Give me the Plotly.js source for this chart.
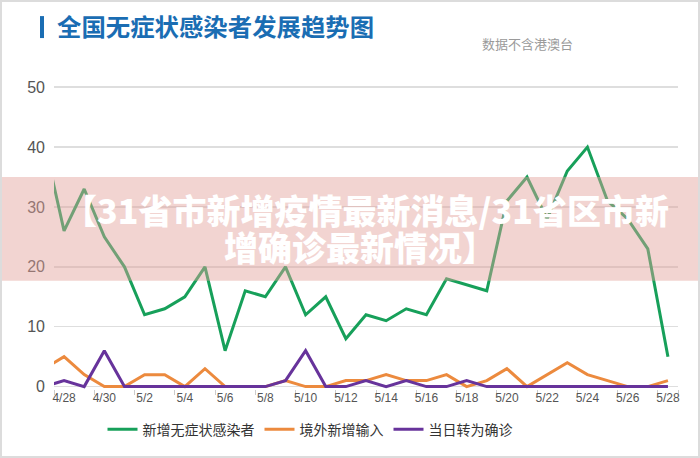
<!DOCTYPE html>
<html>
<head>
<meta charset="utf-8">
<script src="https://cdn.plot.ly/plotly-3.0.1.min.js"></script>
<style>
  html, body { margin: 0; padding: 0; background: #fff; }
  #wrap { position: relative; width: 700px; height: 458px; }
  #chart { width: 700px; height: 458px; }
  #frame { position: absolute; left: 0; top: 0; width: 700px; height: 458px; box-sizing: border-box; border: 2px solid #dcdcdc; pointer-events: none; }
</style>
</head>
<body>
<div id="wrap"><div id="chart"></div><div id="frame"></div></div>
<script>
// Dates (4/27 only feeds the line segment that is clipped at the left edge)
const dates = ['4/27','4/28','4/29','4/30','5/1','5/2','5/3','5/4','5/5','5/6','5/7','5/8','5/9','5/10','5/11','5/12','5/13','5/14','5/15','5/16','5/17','5/18','5/19','5/20','5/21','5/22','5/23','5/24','5/25','5/26','5/27','5/28'];
const asymptomatic = [41,26,33,25,20,12,13,15,20,6,16,15,20,12,15,8,12,11,13,12,18,17,16,31,35,28,36,40,31,28,23,5];
const imported     = [3,5,2,0,0,2,2,0,3,0,0,0,1,0,0,1,1,2,1,1,2,0,1,3,0,2,4,2,1,0,0,1];
const confirmed    = [0,1,0,6,0,0,0,0,0,0,0,0,1,6,0,0,1,0,1,0,0,1,0,0,0,0,0,0,0,0,0,0];
const tickLabels = ['4/28','4/30','5/2','5/4','5/6','5/8','5/10','5/12','5/14','5/16','5/18','5/20','5/22','5/24','5/26','5/28'];
const seriesNames = ['新增无症状感染者','境外新增输入','当日转为确诊'];
const titleText = '全国无症状感染者发展趋势图';
const subtitleText = '数据不含港澳台';
const bannerLine1 = '【31省市新增疫情最新消息/31省区市新';
const bannerLine2 = '增确诊最新情况】';

const CJK = '"Noto Sans CJK SC", "Noto Sans", sans-serif';
const colors = ['#17a05a', '#ec8a3e', '#67339b'];

// plot area geometry helpers (pixels -> paper)
const L = 54, R = 678, T = 86, B = 389.4;
const W = 700, H = 458;
const px = x => (x - L) / (R - L);
const py = y => (B - y) / (B - T);

const traces = [asymptomatic, imported, confirmed].map((vals, i) => ({
  type: 'scatter', mode: 'lines', x: dates, y: vals, name: seriesNames[i],
  line: { color: colors[i], width: 3 }, hoverinfo: 'skip'
}));

const bannerFont = { family: CJK, size: 34, color: '#ffffff', weight: 900 };

const layout = {
  width: W, height: H,
  margin: { l: L, r: W - R, t: T, b: H - B, pad: 0 },
  paper_bgcolor: '#fff', plot_bgcolor: '#fff',
  showlegend: true,
  title: {
    text: titleText, x: 57 / W, xanchor: 'left', y: 1 - 27 / H, yanchor: 'middle',
    font: { family: CJK, size: 24.4, color: '#1a6db3', weight: 'bold' }
  },
  legend: {
    orientation: 'h', x: px(310), xanchor: 'center', y: py(430), yanchor: 'middle',
    font: { family: CJK, size: 14, color: '#333' }, itemwidth: 30, bgcolor: 'rgba(0,0,0,0)'
  },
  xaxis: {
    type: 'category', categoryorder: 'array', categoryarray: dates,
    range: [0.5, dates.length - 0.5],
    tickmode: 'array', tickvals: tickLabels, ticktext: tickLabels, tickangle: 0,
    tickson: 'boundaries', ticks: 'outside', ticklen: 5, tickcolor: '#ccc',
    showgrid: false, zeroline: false, showline: false,
    tickfont: { family: '"Liberation Sans", Arial, sans-serif', size: 12, color: '#555' }
  },
  yaxis: {
    range: [-0.4, 50.2], tickvals: [0, 10, 20, 30, 40, 50],
    showgrid: true, gridcolor: '#dedede', gridwidth: 1.5, zeroline: false, showline: false,
    ticks: '', ticklabelstandoff: 8,
    tickfont: { family: '"Liberation Sans", Arial, sans-serif', size: 16, color: '#555' }
  },
  shapes: [
    { type: 'rect', xref: 'paper', yref: 'paper', x0: px(40), x1: px(44), y0: py(38), y1: py(16),
      fillcolor: '#1a6db3', line: { width: 0 } },
    { type: 'rect', xref: 'paper', yref: 'paper', layer: 'above', x0: px(0), x1: px(700), y0: py(281), y1: py(177),
      fillcolor: 'rgba(226,160,152,0.45)', line: { width: 0 } }
  ],
  annotations: [
    { text: subtitleText, xref: 'paper', yref: 'paper', x: px(480), y: py(43), xanchor: 'left', yanchor: 'middle',
      showarrow: false, font: { family: CJK, size: 13, color: '#9a9a9a' } },
    { text: bannerLine1, xref: 'paper', yref: 'paper', x: px(366), y: py(210), xanchor: 'center', yanchor: 'middle',
      showarrow: false, font: bannerFont },
    { text: bannerLine2, xref: 'paper', yref: 'paper', x: px(360), y: py(247), xanchor: 'center', yanchor: 'middle',
      showarrow: false, font: bannerFont }
  ]
};

Plotly.newPlot('chart', traces, layout, { staticPlot: true, displayModeBar: false });
</script>
</body>
</html>
